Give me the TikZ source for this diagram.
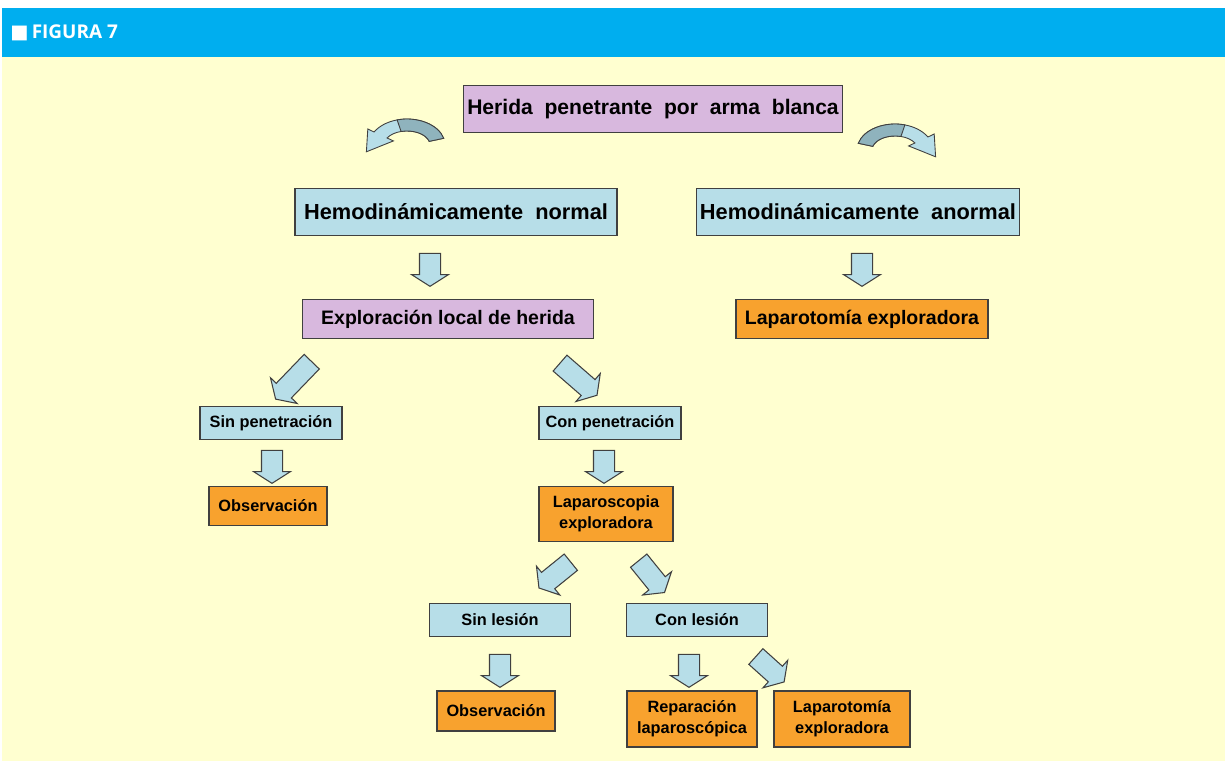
\documentclass[tikz,border=0pt]{standalone}
\usepackage{fontspec}
\setmainfont{Liberation Sans}
\newfontfamily\headfont{Open Sans}
\newfontfamily\symfont{DejaVu Sans}
\usepackage{xcolor}
\definecolor{headBlue}  {HTML}{00AEEF}
\definecolor{pageBack}  {HTML}{FFFFD0}
\definecolor{boxBlue}   {HTML}{B7DEE8}
\definecolor{boxPink}   {HTML}{D8B8DE}
\definecolor{boxOrange} {HTML}{F8A22E}
\definecolor{bendDark}  {HTML}{8FB3BD}
\definecolor{lineGray}  {HTML}{404040}
\usetikzlibrary{shapes.arrows, calc}
\tikzset{
    box/.style={draw=lineGray, rectangle, inner sep=2pt, align=center,
                line width=0.6pt},
    bigbox/.style={box, minimum height=9.4mm,
                   font=\fontsize{12.4}{14}\selectfont\bfseries},
    midbox/.style={box, minimum height=7.8mm,
                   font=\fontsize{11.1}{13}\selectfont\bfseries},
    smallbox/.style={box, font=\fontsize{9.3}{11.9}\selectfont\bfseries},
    bluebox/.style={fill=boxBlue},
    pinkbox/.style={fill=boxPink},
    orangebox/.style={fill=boxOrange},
    blockarrow/.style={single arrow, draw=lineGray, fill=boxBlue,
                       line width=0.6pt, inner xsep=0pt, inner ysep=2mm,
                       minimum height=6.6mm, single arrow head extend=1.6mm,
                       single arrow tip angle=115},
    bendarrow/.pic={
        \filldraw[fill=boxBlue, draw=lineGray, line width=0.5pt]
            (0.734,0.134) arc[start angle=15, end angle=150,
                              x radius=0.76, y radius=0.52]
            -- (-0.784,0.32) -- (-0.812,-0.136) -- (-0.272,0.081)
            -- (-0.398,0.14) arc[start angle=150, end angle=15,
                                 x radius=0.46, y radius=0.28] -- cycle;
        \filldraw[fill=bendDark, draw=lineGray, line width=0.5pt]
            (0.734,0.134) arc[start angle=15, end angle=105,
                              x radius=0.76, y radius=0.52]
            -- ({0.46*cos(105)},{0.28*sin(105)})
            arc[start angle=105, end angle=15,
                x radius=0.46, y radius=0.28] -- cycle;
    },
}

\begin{document}
\begin{tikzpicture}
\useasboundingbox (0,0) rectangle (24.5,15.22);
% Page: yellow panel under a blue title bar.
\fill[pageBack] (0.04,0) rectangle (24.5,14.08);
\fill[headBlue] (0.04,14.08) rectangle (24.5,15.06);
\node[anchor=west, text=white, inner sep=0pt,
      font=\fontsize{10.8}{12}\selectfont\bfseries] (title) at (0.2,14.56)
    {{\symfont\fontsize{11}{12}\selectfont ■}\,{\headfont FIGURA 7}};
% Level 0 and 1.
\node[bigbox, pinkbox, minimum width=7.46cm,
      font=\fontsize{12}{14}\selectfont\bfseries] (herida) at (13.06,13.04)
    {Herida \ penetrante \ por \ arma \ blanca};
\node[bigbox, bluebox, minimum width=6.44cm] (hnorm) at (9.12,10.98)
    {Hemodinámicamente \ normal};
\node[bigbox, bluebox, minimum width=6.44cm] (hanorm) at (17.16,10.98)
    {Hemodinámicamente \ anormal};
% Level 2.
\node[midbox, pinkbox, minimum width=5.82cm] (explo) at (8.96,8.84)
    {Exploración local de herida};
\node[midbox, orangebox, minimum width=5.04cm] (lapa1) at (17.24,8.84)
    {Laparotomía exploradora};
% Level 3 and 4.
\node[smallbox, bluebox, minimum width=2.84cm, minimum height=6.6mm]
    (sinpen) at (5.42,6.76) {Sin penetración};
\node[smallbox, bluebox, minimum width=2.84cm, minimum height=6.6mm]
    (conpen) at (12.2,6.76) {Con penetración};
\node[smallbox, orangebox, minimum width=2.36cm, minimum height=7.8mm]
    (obs1) at (5.36,5.10) {Observación};
\node[smallbox, orangebox, minimum width=2.68cm, minimum height=11mm]
    (lapsc) at (12.12,4.94) {Laparoscopia\\exploradora};
% Level 5 and 6.
\node[smallbox, bluebox, minimum width=2.82cm, minimum height=6.6mm]
    (sinles) at (10.0,2.82) {Sin lesión};
\node[smallbox, bluebox, minimum width=2.82cm, minimum height=6.6mm]
    (conles) at (13.94,2.82) {Con lesión};
\node[smallbox, orangebox, minimum width=2.36cm, minimum height=8mm]
    (obs2) at (9.92,1.00) {Observación};
\node[smallbox, orangebox, minimum width=2.60cm, minimum height=11.2mm]
    (repar) at (13.84,0.84) {Reparación\\laparoscópica};
\node[smallbox, orangebox, minimum width=2.72cm, minimum height=11.2mm]
    (lapa2) at (16.84,0.84) {Laparotomía\\exploradora};
% Bent arrows off the top box.
\pic at (8.14,12.32) {bendarrow};
\pic[xscale=-1] at (17.9,12.22) {bendarrow};
% Straight block arrows.
\node[blockarrow, rotate=-90] (a1) at (8.6,9.89) {};
\node[blockarrow, rotate=-90] (a2) at (17.24,9.89) {};
\node[blockarrow, rotate=-90] (a3) at (5.44,5.95) {};
\node[blockarrow, rotate=-90] (a4) at (12.08,5.95) {};
\node[blockarrow, rotate=-90] (a5) at (10.0,1.87) {};
\node[blockarrow, rotate=-90] (a6) at (13.78,1.87) {};
% Slanted block arrows.
\node[blockarrow, rotate=-134, minimum height=10.4mm] (a7) at (5.92,7.66) {};
\node[blockarrow, rotate=-41, minimum height=9.8mm] (a8) at (11.52,7.68) {};
\node[blockarrow, rotate=-141, minimum height=8.2mm] (a9) at (11.15,3.76) {};
\node[blockarrow, rotate=-51, minimum height=8.2mm] (a10) at (12.99,3.74) {};
\node[blockarrow, rotate=-42, minimum height=7.6mm] (a11) at (15.35,1.88) {};
\end{tikzpicture}
\end{document}
